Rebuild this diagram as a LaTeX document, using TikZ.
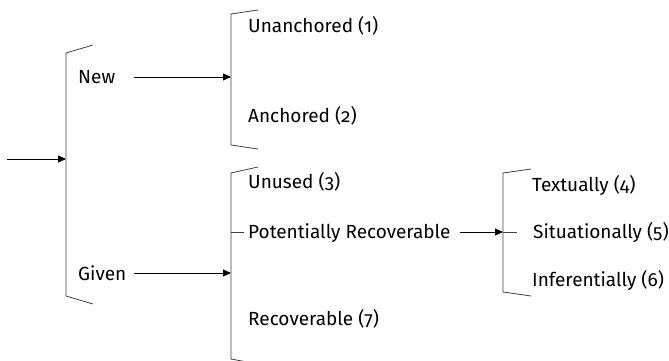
\documentclass[tikz,border=0pt]{standalone}
\usepackage{fontspec}
\setmainfont[Numbers=OldStyle]{Fira Sans}
\usetikzlibrary{arrows.meta}

\tikzset{
  bracket/.style={line width=0.8pt, black!75},
  arr/.style={line width=0.8pt, -{Triangle[length=8pt,width=7pt]}},
  lbl/.style={anchor=base west, inner sep=0pt, font=\fontsize{19}{19}\selectfont}
}

\begin{document}
\begin{tikzpicture}[x=1pt,y=-1pt]
  \useasboundingbox (0,0) rectangle (669,361);

  % brackets
  \draw[bracket] (93,45) -- (66,53) -- (66,296) -- (93,304);
  \draw[bracket] (258,10) -- (231,14) -- (231,145) -- (258,149);
  \draw[bracket] (258,167) -- (231,173) -- (231,359) -- (258,364);
  \draw[bracket] (531,169) -- (503,173) -- (503,292) -- (531,296);

  % points on the brackets
  \coordinate (b1in) at (66,159);
  \coordinate (b2in) at (231,77);
  \coordinate (b3in) at (231,273);
  \coordinate (b3out) at (231,232);
  \coordinate (b4in) at (503,232);
  \coordinate (b4out) at (517,232);

  % labels
  \node[lbl] (new) at (78,83) {New};
  \node[lbl] (given) at (78,280) {Given};
  \node[lbl] (unanch) at (248,33) {Unanchored (1)};
  \node[lbl] (anch) at (248,122) {Anchored (2)};
  \node[lbl] (unused) at (248,188) {Unused (3)};
  \node[lbl] (potrec) at (248,238) {Potentially Recoverable};
  \node[lbl] (recov) at (248,325) {Recoverable (7)};
  \node[lbl] (text) at (532,191) {Textually (4)};
  \node[lbl] (situ) at (533,238) {Situationally (5)};
  \node[lbl] (infer) at (532,286) {Inferentially (6)};

  \coordinate (start) at (7,159);
  \coordinate (newout) at (134,77);
  \coordinate (givenout) at (134,273);
  \coordinate (potout) at (460,232);

  % arrows
  \draw[arr] (start) -- (b1in);
  \draw[arr] (newout) -- (b2in);
  \draw[arr] (givenout) -- (b3in);
  \draw[arr] (potout) -- (b4in);
  \draw[bracket] (b3out) -- ++(13,0);
  \draw[bracket] (b4in) -- (b4out);
\end{tikzpicture}
\end{document}
